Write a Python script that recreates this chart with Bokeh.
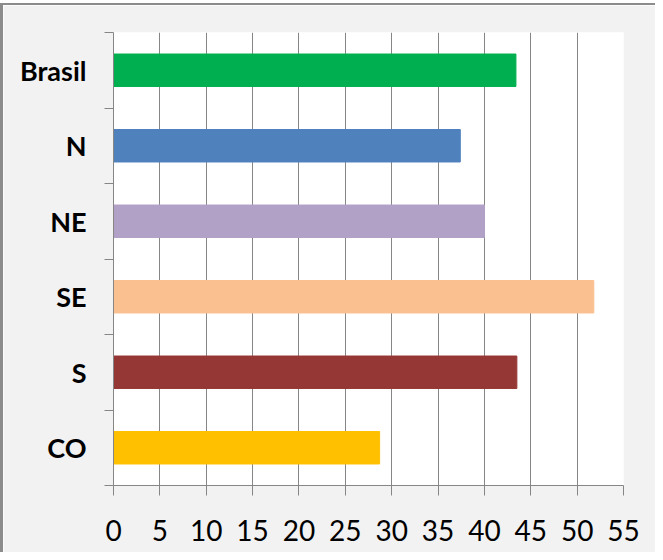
from bokeh.plotting import figure
from bokeh.models import Range1d, FixedTicker
from bokeh.embed import file_html
from bokeh.resources import INLINE

categories = ["Brasil", "N", "NE", "SE", "S", "CO"]
values = [43.4, 37.4, 40.0, 51.8, 43.5, 28.7]
colors = ["#00B050", "#4F81BD", "#B2A1C7", "#FAC090", "#953735", "#FFC000"]
x_ticks = [0, 5, 10, 15, 20, 25, 30, 35, 40, 45, 50, 55]

n = len(categories)
ys = [n - i - 0.5 for i in range(n)]

p = figure(output_backend="svg", toolbar_location=None,
           frame_width=510, frame_height=453,
           min_border_left=110, min_border_right=32,
           min_border_top=27, min_border_bottom=67,
           x_range=Range1d(0, 55), y_range=Range1d(0, n))
p.styles = {"border-left": "3px solid #8c8c8c", "border-top": "2px solid #8c8c8c",
            "margin-top": "3px"}
p.background_fill_color = "white"
p.border_fill_color = "#F2F2F2"
p.outline_line_color = None

p.hbar(y=ys, left=0, right=values, height=0.43, color=colors)

grid_color = "#868686"
p.xaxis.ticker = FixedTicker(ticks=x_ticks)
p.xgrid.ticker = FixedTicker(ticks=x_ticks)
p.xgrid.grid_line_color = grid_color
p.xgrid.grid_line_width = 1
p.ygrid.visible = False

xa = p.xaxis[0]
xa.axis_line_color = grid_color
xa.major_tick_line_color = grid_color
xa.major_tick_out = 10
xa.major_tick_in = 0
xa.minor_tick_line_color = None
xa.major_label_text_font = "Lato"
xa.major_label_text_font_size = "28px"
xa.major_label_text_color = "black"
xa.major_label_standoff = 24

ya = p.yaxis[0]
ya.ticker = FixedTicker(ticks=ys, minor_ticks=list(range(n + 1)))
ya.major_label_overrides = {y: c for y, c in zip(ys, categories)}
ya.axis_line_color = grid_color
ya.major_tick_line_color = None
ya.major_tick_out = 0
ya.major_tick_in = 0
ya.minor_tick_line_color = grid_color
ya.minor_tick_out = 9
ya.minor_tick_in = 0
ya.major_label_text_font = "Lato"
ya.major_label_text_font_style = "bold"
ya.major_label_text_font_size = "27px"
ya.major_label_text_color = "black"
ya.major_label_standoff = 18

open("out.html", "w").write(file_html(p, INLINE))
